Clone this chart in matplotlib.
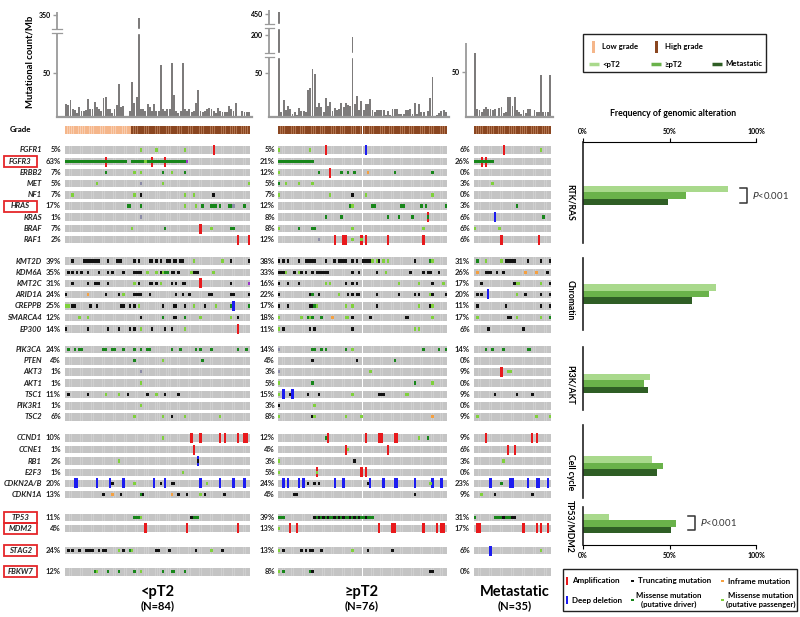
import numpy as np
import matplotlib
matplotlib.use("Agg")
from matplotlib import pyplot as plt
from matplotlib.patches import Rectangle

plt.rcParams['font.family'] = ['Lato', 'DejaVu Sans']

W, H = 800, 617

# ---------------- data ----------------
GENES = ["FGFR1", "FGFR3", "ERBB2", "MET", "NF1", "HRAS", "KRAS", "BRAF", "RAF1",
         "KMT2D", "KDM6A", "KMT2C", "ARID1A", "CREPPB", "SMARCA4", "EP300",
         "PIK3CA", "PTEN", "AKT3", "AKT1", "TSC1", "PIK3R1", "TSC2",
         "CCND1", "CCNE1", "RB1", "E2F3", "CDKN2A/B", "CDKN1A",
         "TP53", "MDM2", "STAG2", "FBKW7"]
BOXED = ["FGFR3", "HRAS", "TP53", "MDM2", "STAG2", "FBKW7"]

pct_lo = [5, 63, 7, 5, 7, 17, 1, 7, 2, 39, 35, 31, 24, 25, 12, 14,
          24, 4, 1, 1, 11, 1, 6, 10, 1, 2, 1, 20, 13, 11, 4, 24, 12]
pct_hi = [5, 21, 12, 5, 7, 12, 8, 8, 12, 38, 33, 16, 22, 17, 18, 11,
          14, 4, 3, 5, 15, 3, 8, 12, 4, 3, 5, 24, 4, 39, 13, 13, 8]
pct_met = [6, 26, 0, 3, 0, 3, 6, 6, 6, 31, 26, 17, 20, 11, 17, 6,
           14, 0, 9, 0, 9, 0, 9, 9, 6, 3, 0, 23, 9, 31, 17, 6, 0]

tmb_lo = [14, 13, 19, 9, 7, 4, 11, 6, 6, 7, 20, 9, 9, 16, 11, 8, 6, 21, 22, 9,
          9, 4, 9, 13, 37, 11, 12, 1, 1, 6, 39, 15, 22, 340, 8, 8, 6, 14, 11, 6,
          14, 6, 6, 59, 9, 6, 8, 9, 61, 25, 6, 4, 6, 61, 8, 6, 8, 5, 6, 15,
          30, 6, 5, 6, 8, 10, 9, 6, 4, 10, 6, 5, 5, 5, 12, 9, 6, 15, 1, 1,
          6, 5, 5, 5]
tmb_hi = [460, 5, 19, 7, 12, 9, 3, 5, 2, 10, 6, 6, 5, 30, 33, 55, 49, 11, 16, 11,
          5, 21, 12, 17, 6, 10, 7, 9, 15, 11, 15, 13, 12, 195, 14, 23, 7, 18, 7, 14,
          14, 20, 8, 5, 8, 7, 7, 7, 2, 6, 2, 9, 9, 9, 3, 3, 3, 8, 8, 9,
          3, 16, 3, 14, 5, 5, 1, 6, 21, 45, 1, 2, 4, 6, 7, 5]
tmb_met = [72, 9, 7, 5, 8, 11, 8, 9, 7, 8, 1, 10, 11, 4, 5, 22, 22, 12, 22, 7,
           5, 3, 7, 4, 9, 9, 1, 7, 5, 5, 47, 5, 5, 5, 47]

grade_lo = "L" * 30 + "H" * 54
grade_hi = "H" * 76
grade_met = "H" * 35

# alteration codes: A amplification, D deep deletion, T truncating, I inframe,
# M missense driver, P missense passenger, O/U other
ev_lo = [
    "34P 41P 54P 67A",
    "0-27M 30-55M 36P 55U 18A 39A 45A",
    "18M 31P 34P 44M 48P 54M",
    "14P 34O 44P 83P",
    "3P 31P 34T 54P 58P 67T",
    "28-29M 34M 54P 59P 62M 66-68M 70M 74M 75M 76O 81M",
    "34O",
    "30P 45M 61A 66P 75-76M",
    "78A 83A",
    "3T 8-15T 19T 23-25T 31T 33T 38-39T 41T 43T 46T 47T 49T 50T 52T 53T 58P 71P 75T 83T",
    "1T 3T 5T 7T 10T 15T 19T 21T 26T 31-34T 37P 41P 43T 44P 45M 46M 48T 49T 51T 57P 58-60T 67P",
    "3T 10T 13-15T 19T 31P 33T 38T 39T 41T 43P 48T 50T 53T 54T 61A 75T 83U",
    "0T 10I 18T 24T 26P 31-34T 38T 50T 53T 56T 65T 66T 75-76T 83T",
    "0P 1P 3T 4T 11T 14T 25T 26T 29T 31T 33P 44T 49T 50T 54T 58P 63T 68P 75M 76D 83M",
    "6P 10P 34T 44M 49T 50T 54M 61P 75P 78T",
    "0T 10T 19T 24T 29T 31T 34P 39T 45T 48T 54P 78A",
    "1M 4M 6M 7M 17M 18M 21M 22M 26M 31M 34M 37M 38M 48M 52M 59M 61M 66M 78M 82M",
    "31M 44P 62M",
    "34O",
    "34P",
    "1T 10T 18P 24P 28T 37T 41P 45T 51T",
    "34P",
    "31P 44P 48T 54P 70P",
    "44P 57A 61A 70A 72A 78A 81A 82A",
    "58A",
    "24P 60D 60T",
    "53P",
    "4D 5D 14D 20D 21T 26D 31P 40D 43T 45D 48T 49T 61D 64P 70D 76D 81D",
    "17T 21I 25T 34M 35T 48I 51T 55T 61P 63T 72T",
    "31-33M 34P 57T 58-60M",
    "36A 55A 78A",
    "1T 3T 6T 9-12T 15T 17T 18T 24P 26T 29M 30P 41T 42T 47T 59T 66P 71T",
    "13M 14P 19M 24M 31M 34P 44M 48M 49M 54M",
]
ev_hi = [
    "0P 14P 21A 39D",
    "0-15M",
    "0P 18M 23A 28M 31M 34M 40I 52M 69M",
    "0M 3P 9P 15P",
    "0P 23P 33T 39P 69P",
    "32M 33P 42M 43M 55M 56M 64M 66M 75M",
    "21M 28M 49M 54M 60M 67M 67A",
    "0P 9M 15M 16M 33P 65P",
    "18O 25A 29A 30A 33P 37A 37P 39A 49A 65A",
    "0T 2T 4T 9T 12-16T 21T 25T 27T 28-30T 33T 35T 38-41T 42P 44P 45T 47P 49P 61T 68M 69P",
    "0-2T 3P 7T 9P 10T 12T 15T 17-22T 33T 36T 44T 48P 59T 65T 67T 68T 72T",
    "0T 4T 9T 21P 23P 30T 33T 35T 54P 63P 69T 74P",
    "0T 14T 15M 18T 27P 31T 33T 35T 36T 44T 54T 61T 63T 68P 69T 75T",
    "0T 4T 14T 15T 16M 17P 30P 33P 44T 63P 68T 69P",
    "0P 10P 13M 14P 15M 19M 24I 30P 31P 33T 41T 57T 58T 69P",
    "0P 2T 14T 16T 33T 61P 63P",
    "0O 15M 16M 19M 21M 30M 33P 65M 72M 75M",
    "15T 35T 52M",
    "0O 41P",
    "0P 15M 61M 69P",
    "0P 2D 5T 6D 13T 18T 33P 45-47T 57P 58P",
    "0T 16P",
    "0P 15T 16P 30P 37P 69I",
    "21M 22A 39A 45A 46A 52A 53A 63P 67M",
    "30A 31P 49A",
    "0P 34T",
    "0P 17A 17P 37A 39A",
    "2D 4D 9D 11D 13T 16T 18T 25D 29D 40T 41D 47D 52D 53D 61D 68P 69D 73D",
    "7T 8T 61T",
    "0-2M 16T 17M 18T 19M 20T 21M 22T 23-24M 25T 26M 27T 28M 29T 30-31M 32T 33M 34T "
    "35M 36T 37-38M 39T 40-42M",
    "0P 5A 8A 45A 51A 52A 65A 71A 73A 74A",
    "0P 2T 10T 12T 14T 15T 19T 33P 40T 51T",
    "0P 2M 14M 15T 68T 69T",
]
ev_met = [
    "13A 30P",
    "0-8M 3A 5A",
    "",
    "8P",
    "",
    "19M",
    "9D 31M",
    "0P 11P",
    "12A 29A",
    "1M 5P 12P 14-18T 24T 30T 34T",
    "1I 5-7T 10T 13T 23I 28I 33T",
    "3T 18T 19P 20P 30P 34T",
    "1T 3T 6D 19P 23T 30T 34T",
    "1T 14T 30T 34T",
    "1P 15T 16T 19P 30P 34M",
    "6T 22T",
    "5M 8M 13M 24M 25M",
    "",
    "12A 15P 16P",
    "",
    "9T 19T 26T",
    "",
    "1P 28P 34P",
    "5A 26A 28A",
    "15A 18A",
    "13P",
    "",
    "7D 12M 16D 17D 24D 28D 29D 33D",
    "3P 9T 26T",
    "0M 9-12M 13T 14-16M 17T 18T",
    "1A 2A 22A 28A 30A 33A",
    "7D 30P",
    "",
]

PATHWAYS = ["RTK/RAS", "Chromatin", "PI3K/AKT", "Cell cycle", "TP53/MDM2"]
freq_lo = [0.84, 0.77, 0.39, 0.40, 0.15]
freq_hi = [0.595, 0.73, 0.35, 0.46, 0.54]
freq_met = [0.49, 0.63, 0.376, 0.43, 0.51]

# ---------------- layout / style ----------------
ROW_Y = [150, 161.7, 172.5, 183.7, 194.8, 206, 217, 228.5, 239.7,
         261, 272.3, 283.3, 294.3, 306, 317.5, 329,
         349.3, 360.7, 371.7, 383, 394.3, 405.7, 416.7,
         438, 449.5, 461, 472.3, 483.3, 494.3,
         517.3, 528.3, 550.5, 571.7]

COL = {"A": "#e8191c", "D": "#1c1cf0", "T": "#111111", "I": "#f5a040",
       "M": "#17861a", "P": "#7fd13b", "O": "#8c8ca8", "U": "#9b35c8"}
C_LO, C_HI, C_MET = "#a9d98c", "#6ab24a", "#2f5e25"


def box(x0, y0, x1, y1):
    return [x0 / W, 1 - y1 / H, (x1 - x0) / W, (y1 - y0) / H]


def parse(s):
    out = []
    for tok in s.split():
        code = tok[-1]
        rng = tok[:-1]
        if "-" in rng:
            a, b = rng.split("-")
            out += [(i, code) for i in range(int(a), int(b) + 1)]
        else:
            out.append((int(rng), code))
    return out


fig = plt.figure(figsize=(8, 6.17), dpi=100)
ax0 = fig.add_axes([0, 0, 1, 1])
ax0.set_xlim(0, W)
ax0.set_ylim(H, 0)
ax0.axis("off")

cohorts = [
    # x0, x1, pct_x, events, pct, grade, tmb, title, n
    (65, 250, 61, ev_lo, pct_lo, grade_lo, tmb_lo, "<pT2", "(N=84)", 158),
    (278, 447, 275, ev_hi, pct_hi, grade_hi, tmb_hi, "\u2265pT2", "(N=76)", 362),
    (474, 551, 470, ev_met, pct_met, grade_met, tmb_met, "Metastatic", "(N=35)", 515),
]

for x0, x1, px, events, pct, grade, tmb, title, ntxt, tx in cohorts:
    n = len(tmb)
    ax = fig.add_axes(box(x0, 120, x1, 580))
    ax.set_xlim(0, n)
    ax.set_ylim(580, 120)
    ax.axis("off")
    xs = np.arange(n) + 0.5

    # grade strip
    gcol = ["#f5b68a" if g == "L" else "#8a4620" for g in grade]
    gbg = ["#f8cdb0" if g == "L" else "#b27550" for g in grade]
    ax.bar(xs, 8, bottom=126, width=1.0, color=gbg, linewidth=0)
    ax.bar(xs, 8, bottom=126, width=0.7, color=gcol, linewidth=0)

    for gi, y in enumerate(ROW_Y):
        ax.bar(xs, 7.6, bottom=y - 3.8, width=1.0, color="#cfcfcf", linewidth=0)
        ax.bar(xs, 7.6, bottom=y - 3.8, width=0.8, color="#c4c4c4", linewidth=0)
        evs = parse(events[gi])
        cnv = [(i, c) for i, c in evs if c in "AD"]
        mut = [(i, c) for i, c in evs if c not in "AD"]
        if cnv:
            ax.bar([i + 0.5 for i, c in cnv], 10, bottom=y - 5, width=1.05,
                   color=[COL[c] for i, c in cnv], linewidth=0, zorder=3)
        if mut:
            ax.bar([i + 0.5 for i, c in mut], 3.4, bottom=y - 1.7, width=1.1,
                   color=[COL[c] for i, c in mut], linewidth=0, zorder=4)
        ax0.text(px, y, f"{pct[gi]}%", ha="right", va="center", fontsize=5.5,
                 fontweight="bold", color="#222222")

    ax0.text(tx, 592, title, ha="center", va="center", fontsize=10.5, fontweight="bold")
    ax0.text(tx, 606, ntxt, ha="center", va="center", fontsize=8, fontweight="bold")

# gene labels
for g, y in zip(GENES, ROW_Y):
    if g in BOXED:
        ax0.add_patch(Rectangle((4, y - 5.5), 32.5, 11, fill=False, edgecolor="#e5262a", lw=1.3))
        ax0.text(20.3, y, g, ha="center", va="center", fontsize=5.6, fontweight="bold",
                 fontstyle="italic", color="#222222")
    else:
        ax0.text(42, y, g, ha="right", va="center", fontsize=5.6, fontweight="bold",
                 fontstyle="italic", color="#222222")
ax0.text(21, 130, "Grade", ha="center", va="center", fontsize=5.8, fontweight="bold")


# ---------------- mutational count bar charts ----------------
def make_scale(knots_v, knots_p):
    kv = np.array(knots_v, float)
    kp = np.array(knots_p, float)

    def fwd(v):
        return np.interp(v, kv, kp, left=kp[0], right=kp[-1])

    def inv(p):
        return np.interp(p, kp, kv)
    return fwd, inv


tmb_axes = [
    # axis_px, x0, x1, end_px, top_px, knots_v, knots_p, ticks, breaks
    (57, 65, 250, 252, 12, [0, 95, 300, 360], [0, 83, 87, 104], [50, 350], [(95, 300)]),
    (269, 278, 447, 449, 10, [0, 68, 140, 225, 400, 470], [0, 59, 63, 88, 92, 106],
     [50, 200, 450], [(68, 140), (225, 400)]),
    (466, 474, 551, 553, 43, [0, 83], [0, 73], [50], []),
]
for (axp, x0, x1, endp, top, kv, kp, ticks, breaks), tmb in zip(tmb_axes, [tmb_lo, tmb_hi, tmb_met]):
    n = len(tmb)
    pw = (x1 - x0) / n
    ax = fig.add_axes(box(axp, top, endp, 116.5))
    fwd, inv = make_scale(kv, kp)
    ax.set_yscale("function", functions=(fwd, inv))
    ax.set_ylim(kv[0], kv[-1])
    ax.set_xlim((axp - x0) / pw, (endp - x0) / pw)
    ax.bar(np.arange(n) + 0.5, tmb, width=0.85, color="#7d7b7b", linewidth=0)
    for s in ["top", "right", "left"]:
        ax.spines[s].set_visible(False)
    ax.spines["bottom"].set_color("#9a9a9a")
    ax.spines["bottom"].set_linewidth(1.6)
    ax.set_xticks([])
    ax.set_yticks(ticks)
    ax.set_yticklabels([str(t) for t in ticks])
    ax.yaxis.set_minor_locator(matplotlib.ticker.NullLocator())
    ax.tick_params(axis="y", length=3, width=1, color="#9a9a9a", labelsize=5, pad=1.5)
    for lab in ax.get_yticklabels():
        lab.set_fontweight("bold")
    ax.patch.set_alpha(0)
    yt = ax.get_yaxis_transform()
    bounds = [kv[0]] + [v for b in breaks for v in b] + [kv[-1]]
    for lo_v, hi_v in zip(bounds[0::2], bounds[1::2]):
        ax.plot([0, 0], [lo_v, hi_v], transform=yt, color="#9a9a9a", lw=1.3,
                clip_on=False, zorder=5, solid_capstyle="butt")
    for lo_v, hi_v in breaks:
        ax.axhspan(lo_v, hi_v, color="white", zorder=3)
        for v in (lo_v, hi_v):
            ax.plot([-0.025, 0.025], [v, v], transform=yt, color="#9a9a9a", lw=0.9,
                    clip_on=False, zorder=5)

ax0.text(30, 62, "Mutational count/Mb", rotation=90, ha="center", va="center",
         fontsize=6.8, fontweight="bold")

# ---------------- frequency panel ----------------
PANEL_SPANS = [(142, 243), (258, 330), (347, 410), (425, 498), (507, 545)]
BAR_Y = [195.5, 294, 383.5, 466, 523.5]
LABEL_Y = [202, 300, 385, 472, 526]

axf = fig.add_axes(box(583, 142, 756, 545))
axf.set_xlim(0, 1)
axf.set_ylim(545, 142)
axf.patch.set_alpha(0)
for s in ["left", "right"]:
    axf.spines[s].set_visible(False)
axf.set_yticks([])
axf.set_xticks([0, 0.5, 1])
axf.set_xticklabels(["0%", "50%", "100%"])
axf.tick_params(axis="x", top=True, labeltop=True, bottom=True, labelbottom=True,
                length=3, labelsize=5, pad=2)
for lab in axf.get_xticklabels():
    lab.set_fontweight("bold")
yb = np.array(BAR_Y)
axf.barh(yb - 6.4, freq_lo, height=6.3, color=C_LO, left=0)
axf.barh(yb, freq_hi, height=6.3, color=C_HI, left=0)
axf.barh(yb + 6.4, freq_met, height=6.3, color=C_MET, left=0)
for (a, b) in PANEL_SPANS:
    axf.plot([0, 0], [a, b], color="#222222", lw=1.2, clip_on=False)
for name, y in zip(PATHWAYS, LABEL_Y):
    ax0.text(570, y, name, rotation=270, ha="center", va="center", fontsize=6.2,
             fontweight="bold")

ax0.text(673, 113, "Frequency of genomic alteration", ha="center", va="center",
         fontsize=6.3, fontweight="bold")

# p-value brackets
for (bx, y0, y1, tx) in [(740, 188, 203, 752), (688, 516, 530, 700)]:
    ax0.plot([bx, bx + 7, bx + 7, bx], [y0, y0, y1, y1], color="#333333", lw=1.1)
    ax0.text(tx, (y0 + y1) / 2, "$\\it{P}$<0.001", ha="left", va="center",
             fontsize=6.8, color="#333333")

# ---------------- legends ----------------
ax0.add_patch(Rectangle((583, 34), 183, 38, fill=False, edgecolor="#222222", lw=1))
ax0.add_patch(Rectangle((592, 41), 3, 12, color="#f5b68a", lw=0))
ax0.text(602, 47, "Low grade", fontsize=5.6, fontweight="bold", va="center")
ax0.add_patch(Rectangle((655, 41), 3, 12, color="#8a4620", lw=0))
ax0.text(665, 47, "High grade", fontsize=5.6, fontweight="bold", va="center")
for x, c, t in [(589, C_LO, "<pT2"), (651, C_HI, "\u2265pT2"), (712, C_MET, "Metastatic")]:
    ax0.plot([x, x + 10], [64, 64], color=c, lw=2.5, solid_capstyle="butt")
    ax0.text(x + 13, 64, t, fontsize=5.6, fontweight="bold", va="center")

ax0.add_patch(Rectangle((563, 569), 234, 42, fill=False, edgecolor="#222222", lw=1))
ax0.add_patch(Rectangle((566, 577), 2.2, 8, color=COL["A"], lw=0))
ax0.text(572, 581, "Amplification", fontsize=5.8, fontweight="bold", va="center")
ax0.add_patch(Rectangle((566, 596), 2.2, 8, color=COL["D"], lw=0))
ax0.text(572, 600, "Deep deletion", fontsize=5.8, fontweight="bold", va="center")
for x, y, c in [(631, 581, "T"), (721, 581, "I"), (631, 600, "M"), (721, 600, "P")]:
    ax0.add_patch(Rectangle((x, y - 1.3), 2.6, 2.6, color=COL[c], lw=0))
ax0.text(638, 581, "Truncating mutation", fontsize=5.8, fontweight="bold", va="center")
ax0.text(728, 581, "Inframe mutation", fontsize=5.8, fontweight="bold", va="center")
ax0.text(669, 600, "Missense mutation\n(putative driver)", fontsize=5.6,
         fontweight="bold", va="center", ha="center", linespacing=1.25)
ax0.text(761, 600, "Missense mutation\n(putative passenger)", fontsize=5.6,
         fontweight="bold", va="center", ha="center", linespacing=1.25)

fig.savefig("out.png", dpi=100, facecolor="white")
